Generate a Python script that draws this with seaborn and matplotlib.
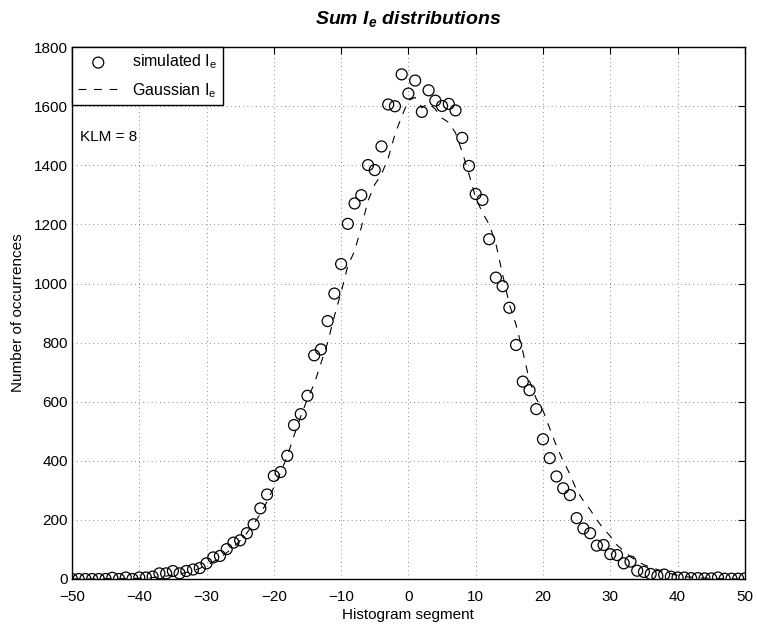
import numpy as np
import pandas as pd
import matplotlib
matplotlib.use("Agg")
import matplotlib.pyplot as plt
import seaborn as sns

# Histogram segments
segments = list(range(-50, 51))

# Simulated sum I_e counts per segment
simulated = [
    0, 0, 0, 0, 0, 0, 4, 0, 5, 0,
    5, 5, 8, 19, 19, 27, 19, 27, 32, 37,
    53, 73, 78, 101, 123, 131, 155, 185, 239, 286,
    349, 362, 417, 521, 558, 620, 757, 777, 873, 966,
    1066, 1202, 1271, 1299, 1401, 1384, 1464, 1606, 1600, 1708,
    1643, 1687, 1581, 1654, 1619, 1601, 1608, 1586, 1493, 1398,
    1303, 1283, 1150, 1020, 991, 918, 792, 668, 639, 575,
    473, 409, 347, 307, 284, 206, 171, 155, 113, 115,
    84, 81, 53, 59, 28, 24, 17, 10, 15, 8,
    5, 5, 3, 3, 2, 2, 5, 1, 1, 1,
    2,
]

# Gaussian sum I_e counts per segment
gaussian = [
    0, 0, 0, 0, 1, 1, 1, 1, 1, 2,
    2, 3, 5, 7, 10, 13, 17, 22, 28, 36,
    46, 58, 72, 89, 108, 130, 156, 186, 220, 262,
    310, 360, 415, 485, 550, 610, 660, 730, 800, 890,
    970, 1060, 1110, 1190, 1280, 1335, 1370, 1425, 1505, 1565,
    1620, 1630, 1595, 1610, 1590, 1560, 1545, 1510, 1445, 1370,
    1290, 1240, 1200, 1135, 1030, 930, 860, 770, 670, 610,
    570, 510, 450, 400, 355, 300, 265, 235, 200, 170,
    145, 115, 95, 75, 60, 48, 40, 32, 25, 18,
    12, 8, 6, 4, 3, 2, 1, 1, 0, 0,
    0,
]

xticks = list(range(-50, 51, 10))
yticks = list(range(0, 1801, 200))

df = pd.DataFrame({"segment": segments, "simulated": simulated, "gaussian": gaussian})

sns.set_style("white")
plt.rcParams["font.family"] = ["Liberation Sans", "DejaVu Sans"]
plt.rcParams["text.color"] = "black"
plt.rcParams["axes.labelcolor"] = "black"
plt.rcParams["mathtext.fontset"] = "custom"
plt.rcParams["mathtext.rm"] = "Liberation Sans"
plt.rcParams["mathtext.it"] = "Liberation Sans:italic"
plt.rcParams["mathtext.bf"] = "Liberation Sans:bold"
plt.rcParams["mathtext.bfit"] = "Liberation Sans:italic:bold"
plt.rcParams["mathtext.default"] = "regular"

fig = plt.figure(figsize=(7.57, 6.29), dpi=100)
ax = fig.add_axes([0.095, 0.0795, 0.889, 0.8455])

sns.scatterplot(data=df, x="segment", y="simulated", ax=ax, marker="o",
                s=62, facecolors="none", edgecolor="black", linewidth=0.9,
                label="simulated I$_e$", zorder=3)
sns.lineplot(data=df, x="segment", y="gaussian", ax=ax, color="black",
             linewidth=0.8, label="Gaussian I$_e$", zorder=2)
ax.lines[-1].set_dashes((7, 7))

ax.set_xlim(-50, 50)
ax.set_ylim(0, 1800)
ax.set_xticks(xticks)
ax.set_yticks(yticks)
ax.set_xticklabels([("\u2212" + str(abs(t))) if t < 0 else str(t) for t in xticks])
ax.tick_params(direction="in", length=5, width=0.8, top=True, right=True,
               labelsize=11, colors="black")
ax.tick_params(axis="x", pad=8)
ax.tick_params(axis="y", pad=3)
ax.grid(True, linestyle=(0, (1, 4)), color="black", linewidth=0.6, alpha=0.6)
for sp in ax.spines.values():
    sp.set_color("black")
    sp.set_linewidth(1.0)

ax.set_xlabel("Histogram segment", fontsize=11, labelpad=3, color="black")
ax.set_ylabel("Number of occurrences", fontsize=11, labelpad=6, color="black")
ax.set_title(r"$\mathbfit{Sum\ I_{e}\ distributions}$", fontsize=14, pad=17,
             color="black")

ax.text(-48.8, 1496, "KLM = 8", fontsize=11, va="center", ha="left", color="black")

leg = ax.legend(loc="upper left", fancybox=False, framealpha=1, edgecolor="black",
                fontsize=11.5, borderaxespad=0, handlelength=2.6,
                borderpad=0.35, labelspacing=0.6, handletextpad=0.8)
leg.get_frame().set_linewidth(1.0)
for t in leg.get_texts():
    t.set_color("black")

fig.savefig("out.png", dpi=100)
